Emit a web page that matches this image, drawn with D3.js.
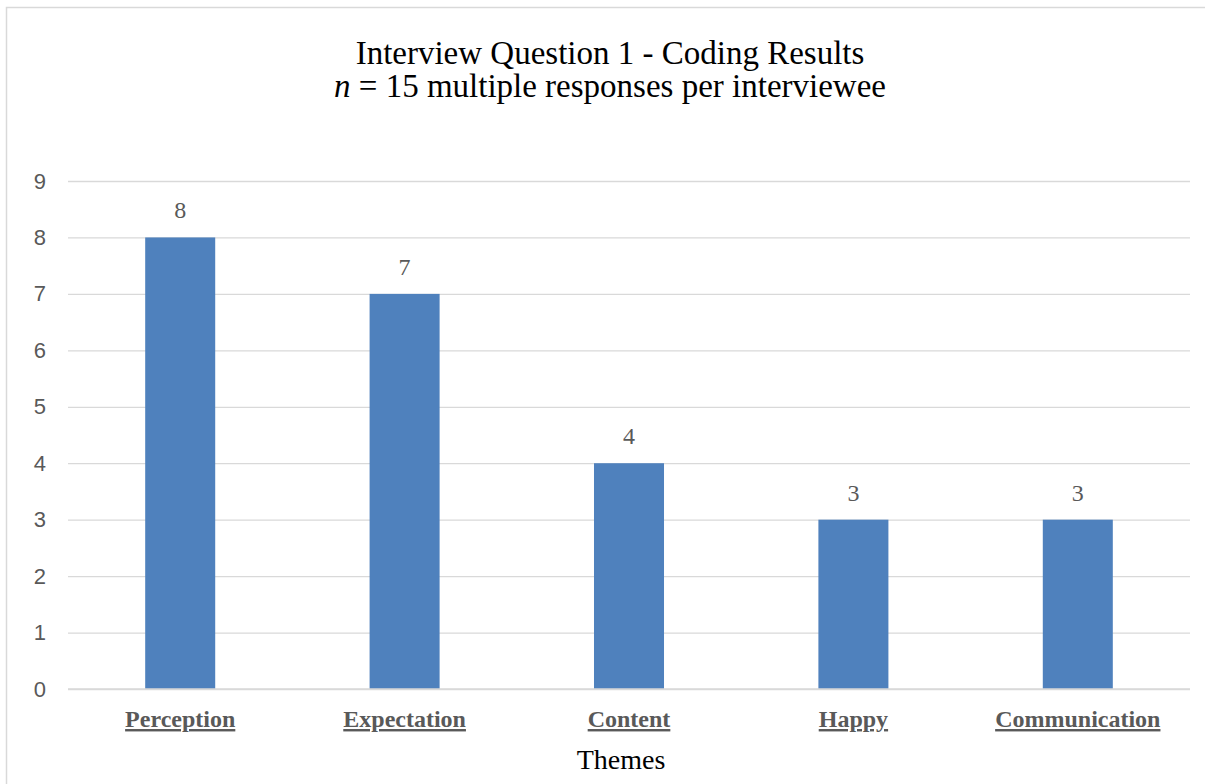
<!DOCTYPE html>
<html>
<head>
<meta charset="utf-8">
<script src="https://cdn.jsdelivr.net/npm/d3@7"></script>
<style>
  body { margin: 0; background: #fff; }
</style>
</head>
<body>
<svg id="chart" width="1205" height="784"></svg>
<script>
const themes = ["Perception", "Expectation", "Content", "Happy", "Communication"];
const counts = [8, 7, 4, 3, 3];
const yTicks = [0, 1, 2, 3, 4, 5, 6, 7, 8, 9];

const svg = d3.select("#chart");
const margin = { top: 181, right: 15, bottom: 95, left: 68 };
const width = 1190 - margin.left;
const height = 689 - margin.top;

// outer chart border (runs off the right/bottom of the picture)
svg.append("rect")
    .attr("x", 6.5).attr("y", 7.5)
    .attr("width", 1210).attr("height", 800)
    .attr("fill", "none").attr("stroke", "#d9d9d9").attr("stroke-width", 1.5);

const g = svg.append("g").attr("transform", `translate(${margin.left},${margin.top})`);

const x = d3.scaleBand().domain(themes).range([0, width]).paddingInner(0.688).paddingOuter(0.344);
const y = d3.scaleLinear().domain([0, 9]).range([height, 0]);

g.append("g")
    .call(d3.axisLeft(y).tickValues(yTicks).tickSize(-width).tickPadding(22))
    .call(a => a.select(".domain").remove())
    .call(a => a.selectAll("line").attr("stroke", "#d9d9d9").attr("stroke-width", 1.3))
    .call(a => a.selectAll("text")
        .attr("fill", "#595959")
        .attr("font-family", "'Liberation Sans', Arial, sans-serif")
        .attr("font-size", 22));

g.selectAll("rect.bar")
    .data(counts)
    .enter()
    .append("rect")
    .attr("class", "bar")
    .attr("x", (d, i) => x(themes[i]))
    .attr("y", d => y(d))
    .attr("width", x.bandwidth())
    .attr("height", d => height - y(d))
    .attr("fill", "#4f81bd");

g.selectAll("text.label")
    .data(counts)
    .enter()
    .append("text")
    .attr("class", "label")
    .attr("x", (d, i) => x(themes[i]) + x.bandwidth() / 2)
    .attr("y", d => y(d) - 19)
    .attr("text-anchor", "middle")
    .attr("fill", "#595959")
    .attr("font-family", "'Liberation Serif', serif")
    .attr("font-size", 24)
    .text(d => d);

g.append("line")
    .attr("x1", 0).attr("x2", width)
    .attr("y1", height).attr("y2", height)
    .attr("stroke", "#d9d9d9").attr("stroke-width", 1.5);

g.append("g")
    .attr("transform", `translate(0,${height})`)
    .call(d3.axisBottom(x).tickSize(0).tickPadding(21))
    .call(a => a.select(".domain").remove())
    .call(a => a.selectAll("text")
        .attr("fill", "#595959")
        .attr("font-family", "'Liberation Serif', serif")
        .attr("font-weight", "bold")
        .attr("font-size", 24)
        .attr("text-decoration", "underline"));

svg.append("text")
    .attr("x", margin.left + width / 2 - 8).attr("y", 769)
    .attr("text-anchor", "middle")
    .attr("font-family", "'Liberation Serif', serif")
    .attr("font-size", 28)
    .attr("fill", "#000")
    .text("Themes");

const title = svg.append("text")
    .attr("x", 610).attr("text-anchor", "middle")
    .attr("font-family", "'Liberation Serif', serif")
    .attr("font-size", 33)
    .attr("fill", "#000");
title.append("tspan").attr("x", 610).attr("y", 64).text("Interview Question 1 - Coding Results");
const line2 = title.append("tspan").attr("x", 610).attr("y", 97);
line2.append("tspan").attr("font-style", "italic").text("n");
line2.append("tspan").text(" = 15 multiple responses per interviewee");
</script>
</body>
</html>
